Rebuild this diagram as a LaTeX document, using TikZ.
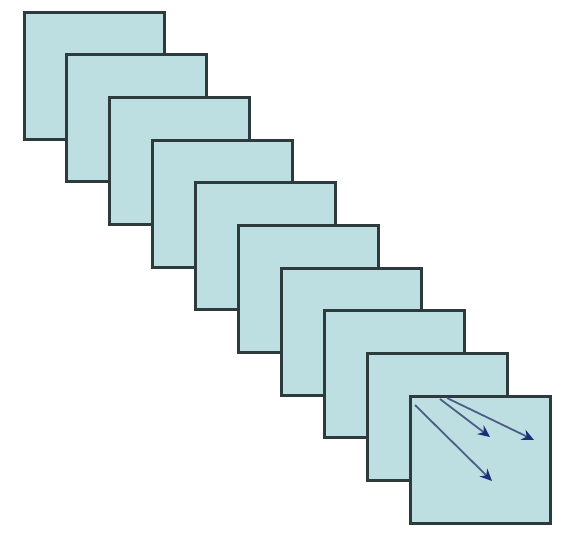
\documentclass[tikz,border=0pt]{standalone}
\usetikzlibrary{arrows.meta}
\definecolor{sheetfill}{HTML}{BEDFE2}
\definecolor{sheetedge}{HTML}{2E3B3C}
\definecolor{raycol}{HTML}{4A5E86}
\definecolor{raytip}{HTML}{1B2F7A}
\tikzset{
	sheet/.style={draw=sheetedge, fill=sheetfill, line width=3pt, minimum width=140pt, minimum height=127pt, inner sep=0pt, outer sep=0pt, anchor=north west},
	ray/.style={draw=raycol, line width=1.8pt, -{Stealth[length=12pt,width=11pt,color=raytip]}}
}
\begin{document}
\begin{tikzpicture}[x=1pt,y=-1pt]
	\useasboundingbox (0,0) rectangle (563,533);
	\foreach \i in {0,...,9}
		\node[sheet] (s\i) at ({24+42.9*\i},{12+42.7*\i}) {};
	% rays in the front sheet
	\coordinate (a1) at (440,399);
	\coordinate (a2) at (447,398);
	\coordinate (a3) at (415,405);
	\coordinate (b1) at (490,437);
	\coordinate (b2) at (534,440);
	\coordinate (b3) at (492,481);
	\draw[ray] (a1) -- (b1);
	\draw[ray] (a2) -- (b2);
	\draw[ray] (a3) -- (b3);
\end{tikzpicture}
\end{document}
